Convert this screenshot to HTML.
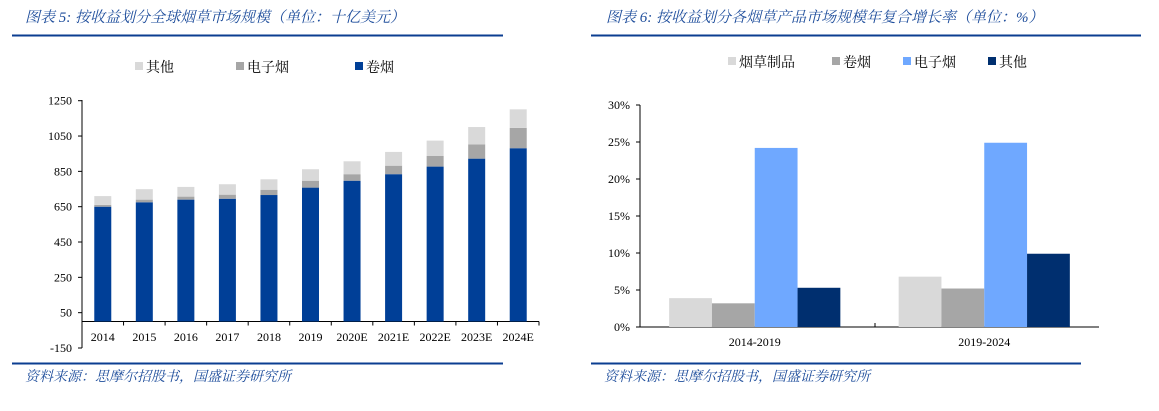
<!DOCTYPE html>
<html><head><meta charset="utf-8"><style>
body{margin:0;background:#fff}
svg{display:block;font-family:"Liberation Serif","Noto Serif CJK SC",serif}
.t{font-family:"Liberation Serif","Noto Serif CJK SC",serif;font-style:italic;fill:#1f4e9c}
</style></head><body>
<svg id="s" width="1159" height="411" viewBox="0 0 1159 411">
<text class="t" x="25" y="22" font-size="15">图表 5:  按收益划分全球烟草市场规模（单位：十亿美元）</text>
<line x1="12" y1="35.5" x2="503" y2="35.5" stroke="#0b3e91" stroke-width="2"/>
<text class="t" x="606" y="22" font-size="15">图表 6:  按收益划分各烟草产品市场规模年复合增长率（单位：%）</text>
<line x1="591" y1="35.5" x2="1141" y2="35.5" stroke="#0b3e91" stroke-width="2"/>
<line x1="12" y1="363.5" x2="503" y2="363.5" stroke="#0b3e91" stroke-width="2"/>
<line x1="591" y1="363.5" x2="1081" y2="363.5" stroke="#0b3e91" stroke-width="2"/>
<text class="t" x="25" y="381" font-size="14">资料来源：思摩尔招股书，国盛证券研究所</text>
<text class="t" x="604" y="381" font-size="14">资料来源：思摩尔招股书，国盛证券研究所</text>
<g id="L"></g><g id="R"></g>
</svg>
<script>
const years=["2014","2015","2016","2017","2018","2019","2020E","2021E","2022E","2023E","2024E"];
const cig=[650,675,690,695,716,758,797,834,877,922,981];
const ecig=[10,15,17,23,30,39,37,48,60,81,115];
const other=[50,59,55,59,59,65,73,78,87,98,105];
const leftTicks=[-150,50,250,450,650,850,1050,1250];
const groups=["2014-2019","2019-2024"];
const rSeries=["烟草制品","卷烟","电子烟","其他"];
const rVals=[[3.9,6.8],[3.2,5.2],[24.2,24.9],[5.3,9.9]];
const rightTicks=[0,5,10,15,20,25,30];
const NS="http://www.w3.org/2000/svg";
function mk(p,tag,a,txt){const e=document.createElementNS(NS,tag);for(const k in a)e.setAttribute(k,a[k]);if(txt!==undefined)e.textContent=txt;p.appendChild(e);return e;}
// left
const L=document.getElementById('L');
const ly=v=>348-(v+150)*(247.3/1400);
const lx0=82,lw=(539-82)/years.length;
let e=mk(L,'line',{x1:82,y1:100,x2:82,y2:348,stroke:'#000'});

leftTicks.forEach(t=>{
 const tk=mk(L,'line',{x1:78,y1:ly(t),x2:82,y2:ly(t),stroke:'#000'});
 
 const lb=mk(L,'text',{x:72,y:ly(t)+4,'font-size':12,'text-anchor':'end'},String(t));
 
});
e=mk(L,'line',{x1:82,y1:ly(0),x2:539,y2:ly(0),stroke:'#000'});

years.forEach((y,i)=>{
 const cx=lx0+lw*(i+0.5),bw=17;
 const tk=mk(L,'line',{x1:lx0+lw*(i+1),y1:ly(0),x2:lx0+lw*(i+1),y2:ly(0)+4,stroke:'#000'});
 
 const segs=[[cig[i],'#003f97','bar-cigarette'],[ecig[i],'#a6a6a6','bar-ecig'],[other[i],'#d9d9d9','bar-other']];
 let base=0;
 segs.forEach(s=>{
  const r=mk(L,'rect',{x:cx-bw/2,y:ly(base+s[0]),width:bw,height:ly(base)-ly(base+s[0]),fill:s[1]});
  
  base+=s[0];
 });
 const lb=mk(L,'text',{x:cx,y:341,'font-size':12,'text-anchor':'middle'},y);
 
});
[["其他",'#d9d9d9',135],["电子烟",'#a6a6a6',236],["卷烟",'#003f97',355]].forEach(l=>{
 const g=mk(L,'g',{});
 
 mk(g,'rect',{x:l[2],y:62,width:8,height:8,fill:l[1]});
 mk(g,'text',{x:l[2]+11,y:72,'font-size':14},l[0]);
});
// right
const R=document.getElementById('R');
const ry=v=>327-v*7.4;
e=mk(R,'line',{x1:640,y1:105,x2:640,y2:327,stroke:'#000'});

e=mk(R,'line',{x1:640,y1:327,x2:1099,y2:327,stroke:'#000'});

e=mk(R,'line',{x1:875,y1:323,x2:875,y2:327,stroke:'#000'});

rightTicks.forEach(t=>{
 const tk=mk(R,'line',{x1:636,y1:ry(t),x2:640,y2:ry(t),stroke:'#000'});
 
 const lb=mk(R,'text',{x:630,y:ry(t)+4,'font-size':12,'text-anchor':'end'},t+'%');
 
});
const rCols=['#d9d9d9','#a6a6a6','#6fa8ff','#002f6f'];
const gw=(1099-640)/groups.length,bw2=42.8;
groups.forEach((g,gi)=>{
 const gc=640+gw*(gi+0.5);
 rSeries.forEach((s,si)=>{
  const v=rVals[si][gi];
  const r=mk(R,'rect',{x:gc-2*bw2+si*bw2,y:ry(v),width:bw2,height:ry(0)-ry(v),fill:rCols[si]});
  
 });
 const lb=mk(R,'text',{x:gc,y:346,'font-size':12,'text-anchor':'middle'},g);
 
});
[[728,0],[832,1],[903,2],[988,3]].forEach(p=>{
 const g=mk(R,'g',{});
 
 mk(g,'rect',{x:p[0],y:57,width:8,height:8,fill:rCols[p[1]]});
 mk(g,'text',{x:p[0]+11,y:67,'font-size':14},rSeries[p[1]]);
});
</script>
</body></html>
